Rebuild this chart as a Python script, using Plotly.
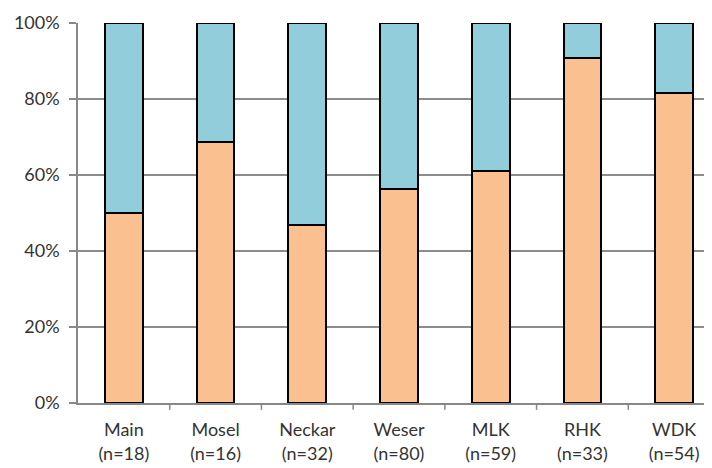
import plotly.graph_objects as go

categories = ["Main<br>(n=18)", "Mosel<br>(n=16)", "Neckar<br>(n=32)", "Weser<br>(n=80)",
              "MLK<br>(n=59)", "RHK<br>(n=33)", "WDK<br>(n=54)"]
lower_pct = [50.0, 68.75, 46.875, 56.25, 61.0, 90.9, 81.5]
upper_pct = [100 - v for v in lower_pct]
y_ticks = [0, 20, 40, 60, 80, 100]
y_tick_labels = ["0%", "20%", "40%", "60%", "80%", "100%"]

x = list(range(len(categories)))
fig = go.Figure()
fig.add_bar(x=x, y=lower_pct, marker=dict(color="#FAC090", line=dict(color="#000000", width=2)),
            width=0.41, showlegend=False)
fig.add_bar(x=x, y=upper_pct, marker=dict(color="#92CDDC", line=dict(color="#000000", width=2)),
            width=0.41, showlegend=False)

fig.update_layout(
    barmode="stack",
    width=712, height=468,
    margin=dict(l=70, r=0, t=15, b=73, autoexpand=False),
    plot_bgcolor="white", paper_bgcolor="white",
    font=dict(family="Lato, Liberation Sans, sans-serif", size=18, color="#333333"),
)
fig.update_xaxes(
    range=[-0.5, 6.5],
    tickmode="array", tickvals=x, ticktext=categories,
    showgrid=False, automargin=False,
    showline=True, linecolor="#888888", linewidth=1.5,
    ticks="", ticklabelstandoff=10, tickfont=dict(size=18, color="#333333"),
)
fig.update_yaxes(
    range=[0, 100], tickmode="array", tickvals=y_ticks, ticktext=y_tick_labels,
    showgrid=True, gridcolor="#8C8C8C", gridwidth=1.5,
    showline=True, linecolor="#888888", linewidth=1.5,
    ticks="outside", ticklen=7, tickcolor="#888888", tickwidth=1.5,
    ticklabelstandoff=6, automargin=False,
    tickfont=dict(size=18, color="#333333"),
    zeroline=False,
)
# boundary ticks between categories on x axis
for b in [0.5, 1.5, 2.5, 3.5, 4.5, 5.5]:
    fig.add_shape(type="line", xref="x", yref="paper", x0=b, x1=b, y0=0, y1=-0.018,
                  line=dict(color="#888888", width=1.5))
fig.write_html("out.html")
